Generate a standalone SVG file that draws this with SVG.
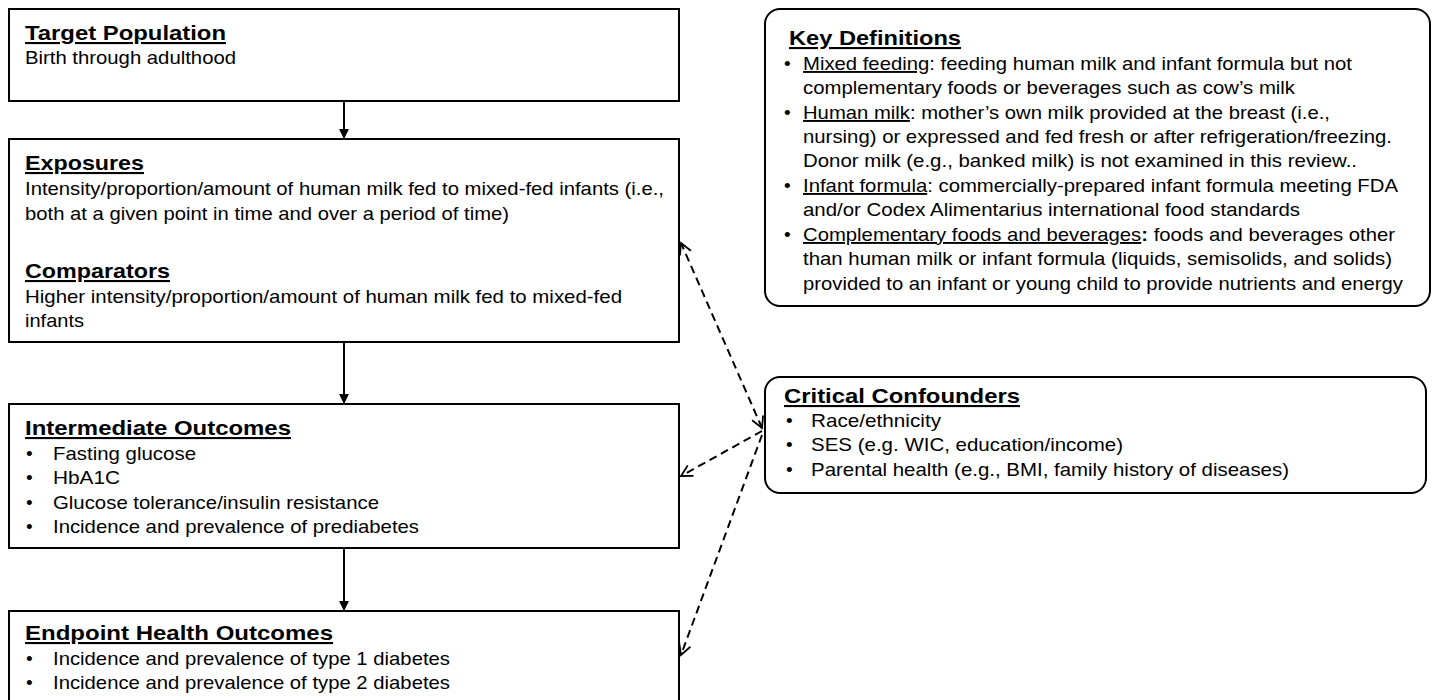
<svg xmlns="http://www.w3.org/2000/svg" width="1432" height="700" viewBox="0 0 1432 700">
<style>
.box{fill:#fff;stroke:#000;stroke-width:2}
.t{font-family:"Liberation Sans",Arial,sans-serif;font-size:19px;fill:#000}
.h{font-family:"Liberation Sans",Arial,sans-serif;font-size:21px;font-weight:bold;fill:#000;text-decoration:underline}
.u{text-decoration:underline}
.solid{stroke:#000;stroke-width:2;fill:none}
.dash{stroke:#000;stroke-width:2;fill:none;stroke-dasharray:8 5}
</style>
<defs>
<marker id="tri" markerWidth="10" markerHeight="10" refX="9" refY="5" orient="auto" markerUnits="userSpaceOnUse">
<path d="M0,0 L10,5 L0,10 z" fill="#000"/>
</marker>
<marker id="vee" markerWidth="14" markerHeight="14" refX="12" refY="7" orient="auto-start-reverse" markerUnits="userSpaceOnUse">
<path d="M1,1 L12,7 L1,13" fill="none" stroke="#000" stroke-width="1.8"/>
</marker>
</defs>
<rect width="1432" height="700" fill="#fff"/>
<g id="connectors">
<line class="solid" x1="344" y1="101" x2="344" y2="138" marker-end="url(#tri)"/>
<line class="solid" x1="344" y1="342" x2="344" y2="403" marker-end="url(#tri)"/>
<line class="solid" x1="344" y1="548" x2="344" y2="610" marker-end="url(#tri)"/>
<line class="dash" x1="762" y1="428" x2="681" y2="243" marker-start="url(#vee)" marker-end="url(#vee)"/>
<line class="dash" x1="762" y1="431" x2="681" y2="476" marker-end="url(#vee)"/>
<line class="dash" x1="762" y1="435" x2="681" y2="655" marker-end="url(#vee)"/>
</g>
<g id="target">
<rect class="box" x="9" y="9" width="670" height="92"/>
<text class="h" x="25" y="40" textLength="201" lengthAdjust="spacingAndGlyphs">Target Population</text>
<text class="t" x="25" y="64" textLength="211" lengthAdjust="spacingAndGlyphs">Birth through adulthood</text>
</g>
<g id="exposures">
<rect class="box" x="9" y="139" width="670" height="203"/>
<text class="h" x="25" y="170" textLength="119" lengthAdjust="spacingAndGlyphs">Exposures</text>
<text class="t" x="25" y="195" textLength="639" lengthAdjust="spacingAndGlyphs">Intensity/proportion/amount of human milk fed to mixed-fed infants (i.e.,</text>
<text class="t" x="25" y="220" textLength="484" lengthAdjust="spacingAndGlyphs">both at a given point in time and over a period of time)</text>
<text class="h" x="25" y="278" textLength="145" lengthAdjust="spacingAndGlyphs">Comparators</text>
<text class="t" x="25" y="303" textLength="597" lengthAdjust="spacingAndGlyphs">Higher intensity/proportion/amount of human milk fed to mixed-fed</text>
<text class="t" x="25" y="327" textLength="59" lengthAdjust="spacingAndGlyphs">infants</text>
</g>
<g id="intermediate">
<rect class="box" x="9" y="404" width="670" height="144"/>
<text class="h" x="25" y="435" textLength="266" lengthAdjust="spacingAndGlyphs">Intermediate  Outcomes</text>
<text class="t" x="26" y="460">•</text>
<text class="t" x="53" y="460" textLength="143" lengthAdjust="spacingAndGlyphs">Fasting glucose</text>
<text class="t" x="26" y="484">•</text>
<text class="t" x="53" y="484" textLength="67" lengthAdjust="spacingAndGlyphs">HbA1C</text>
<text class="t" x="26" y="509">•</text>
<text class="t" x="53" y="509" textLength="326" lengthAdjust="spacingAndGlyphs">Glucose tolerance/insulin resistance</text>
<text class="t" x="26" y="533">•</text>
<text class="t" x="53" y="533" textLength="366" lengthAdjust="spacingAndGlyphs">Incidence and prevalence of prediabetes</text>
</g>
<g id="endpoint">
<rect class="box" x="9" y="611" width="670" height="100"/>
<text class="h" x="25" y="640" textLength="308" lengthAdjust="spacingAndGlyphs">Endpoint  Health  Outcomes</text>
<text class="t" x="26" y="665">•</text>
<text class="t" x="53" y="665" textLength="397" lengthAdjust="spacingAndGlyphs">Incidence and prevalence of type 1 diabetes</text>
<text class="t" x="26" y="689">•</text>
<text class="t" x="53" y="689" textLength="397" lengthAdjust="spacingAndGlyphs">Incidence and prevalence of type 2 diabetes</text>
</g>
<g id="definitions">
<rect class="box" x="765" y="9" width="665" height="297" rx="15" ry="15"/>
<text class="h" x="789" y="45" textLength="172" lengthAdjust="spacingAndGlyphs">Key Definitions</text>
<text class="t" x="784" y="70">•</text>
<text class="t" x="803" y="70" textLength="549" lengthAdjust="spacingAndGlyphs"><tspan class="u">Mixed feeding</tspan>: feeding human milk and infant formula but not</text>
<text class="t" x="803" y="94" textLength="492" lengthAdjust="spacingAndGlyphs">complementary foods or beverages such as cow’s milk</text>
<text class="t" x="784" y="119">•</text>
<text class="t" x="803" y="119" textLength="527" lengthAdjust="spacingAndGlyphs"><tspan class="u">Human milk</tspan>: mother’s own milk provided at the breast (i.e.,</text>
<text class="t" x="803" y="143" textLength="589" lengthAdjust="spacingAndGlyphs">nursing) or expressed and fed fresh or after refrigeration/freezing.</text>
<text class="t" x="803" y="167" textLength="554" lengthAdjust="spacingAndGlyphs">Donor milk (e.g., banked milk) is not examined in this review..</text>
<text class="t" x="784" y="192">•</text>
<text class="t" x="803" y="192" textLength="595" lengthAdjust="spacingAndGlyphs"><tspan class="u">Infant formula</tspan>: commercially-prepared infant formula meeting FDA</text>
<text class="t" x="803" y="216" textLength="497" lengthAdjust="spacingAndGlyphs">and/or Codex Alimentarius international  food standards</text>
<text class="t" x="784" y="241">•</text>
<text class="t" x="803" y="241" textLength="592" lengthAdjust="spacingAndGlyphs"><tspan class="u">Complementary foods and beverages</tspan><tspan font-weight="bold">:</tspan> foods and beverages other</text>
<text class="t" x="803" y="265" textLength="589" lengthAdjust="spacingAndGlyphs">than human milk or infant formula (liquids, semisolids, and solids)</text>
<text class="t" x="803" y="290" textLength="600" lengthAdjust="spacingAndGlyphs">provided to an infant or young child to provide nutrients and energy</text>
</g>
<g id="confounders">
<rect class="box" x="765" y="377" width="661" height="116" rx="15" ry="15"/>
<text class="h" x="784" y="403" textLength="236" lengthAdjust="spacingAndGlyphs">Critical  Confounders</text>
<text class="t" x="786" y="427">•</text>
<text class="t" x="811" y="427" textLength="130" lengthAdjust="spacingAndGlyphs">Race/ethnicity</text>
<text class="t" x="786" y="451">•</text>
<text class="t" x="811" y="451" textLength="312" lengthAdjust="spacingAndGlyphs">SES (e.g. WIC, education/income)</text>
<text class="t" x="786" y="476">•</text>
<text class="t" x="811" y="476" textLength="478" lengthAdjust="spacingAndGlyphs">Parental health (e.g., BMI, family history of diseases)</text>
</g>
</svg>
